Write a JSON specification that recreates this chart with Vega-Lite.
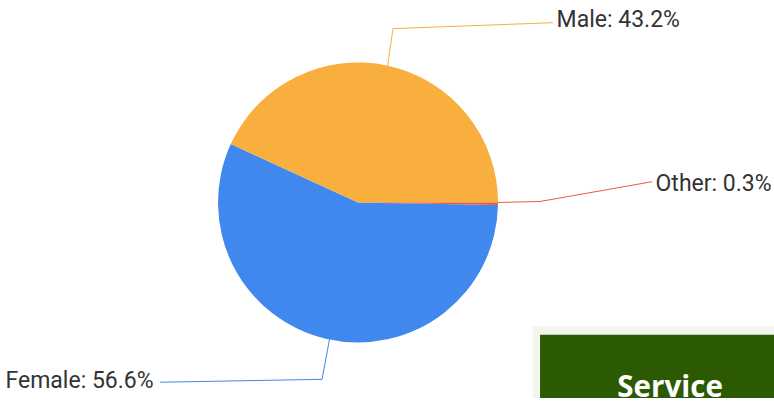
{
  "$schema": "https://vega.github.io/schema/vega-lite/v6.json",
  "width": 774,
  "height": 403,
  "autosize": {"type": "fit", "contains": "padding"},
  "padding": 0,
  "background": "white",
  "config": {"view": {"stroke": null}},
  "datasets": {
    "slices": [
      {"category": "Female", "share": 56.6},
      {"category": "Male", "share": 43.2},
      {"category": "Other", "share": 0.3}
    ],
    "leaders": [
      {"category": "Male", "step": 1, "px": 0.21, "py": 0.98},
      {"category": "Male", "step": 2, "px": 0.25, "py": 1.257},
      {"category": "Male", "step": 3, "px": 1.393, "py": 1.3},
      {"category": "Other", "step": 1, "px": 1.0, "py": 0.0},
      {"category": "Other", "step": 2, "px": 1.3, "py": 0.007},
      {"category": "Other", "step": 3, "px": 2.1, "py": 0.15},
      {"category": "Female", "step": 1, "px": -0.2, "py": -0.97},
      {"category": "Female", "step": 2, "px": -0.257, "py": -1.279},
      {"category": "Female", "step": 3, "px": -1.414, "py": -1.3}
    ],
    "labels": [
      {"category": "Male", "label": "Male: 43.2%", "lx": 1.418, "ly": 1.321, "side": "right"},
      {"category": "Other", "label": "Other: 0.3%", "lx": 2.125, "ly": 0.136, "side": "right"},
      {"category": "Female", "label": "Female: 56.6%", "lx": -1.46, "ly": -1.293, "side": "left"}
    ],
    "box": [
      {"part": "outer", "x1": 1.25, "x2": 2.971, "y1": -0.893, "y2": -1.414},
      {"part": "inner", "x1": 1.3, "x2": 2.971, "y1": -0.957, "y2": -1.414}
    ],
    "boxtext": [
      {"text": "Service", "tx": 2.229, "ty": -1.407}
    ]
  },
  "layer": [
    {
      "data": {"name": "slices"},
      "mark": {"type": "arc", "outerRadius": 140},
      "encoding": {
        "x": {"datum": 0, "type": "quantitative", "scale": {"domain": [-2.557, 2.971], "nice": false, "zero": false}, "axis": null},
        "y": {"datum": 0, "type": "quantitative", "scale": {"domain": [-1.414, 1.464], "nice": false, "zero": false}, "axis": null},
        "theta": {"field": "share", "type": "quantitative", "stack": true, "scale": {"range": [1.5896, 7.8728]}},
        "color": {"field": "category", "type": "nominal", "scale": {"domain": ["Female", "Male", "Other"], "range": ["#4088ED", "#F9AF3D", "#E95A40"]}, "legend": null},
        "order": {"field": "category", "sort": "ascending"}
      }
    },
    {
      "data": {"name": "leaders"},
      "mark": {"type": "line", "strokeWidth": 1},
      "encoding": {
        "x": {"field": "px", "type": "quantitative"},
        "y": {"field": "py", "type": "quantitative"},
        "color": {"field": "category", "type": "nominal", "legend": null},
        "order": {"field": "step", "type": "quantitative"}
      }
    },
    {
      "data": {"name": "labels"},
      "transform": [{"filter": "datum.side === 'right'"}],
      "mark": {"type": "text", "align": "left", "baseline": "middle", "font": "Roboto", "fontSize": 23, "color": "#333333"},
      "encoding": {
        "x": {"field": "lx", "type": "quantitative"},
        "y": {"field": "ly", "type": "quantitative"},
        "text": {"field": "label"}
      }
    },
    {
      "data": {"name": "labels"},
      "transform": [{"filter": "datum.side === 'left'"}],
      "mark": {"type": "text", "align": "right", "baseline": "middle", "font": "Roboto", "fontSize": 23, "color": "#333333"},
      "encoding": {
        "x": {"field": "lx", "type": "quantitative"},
        "y": {"field": "ly", "type": "quantitative"},
        "text": {"field": "label"}
      }
    },
    {
      "data": {"name": "box"},
      "mark": {"type": "rect"},
      "encoding": {
        "x": {"field": "x1", "type": "quantitative"},
        "x2": {"field": "x2"},
        "y": {"field": "y1", "type": "quantitative"},
        "y2": {"field": "y2"},
        "fill": {"field": "part", "type": "nominal", "scale": {"domain": ["outer", "inner"], "range": ["#F3F5EE", "#2C5A02"]}, "legend": null}
      }
    },
    {
      "data": {"name": "boxtext"},
      "mark": {"type": "text", "align": "center", "baseline": "alphabetic", "font": "Open Sans", "fontWeight": "bold", "fontSize": 29.5, "color": "white"},
      "encoding": {
        "x": {"field": "tx", "type": "quantitative"},
        "y": {"field": "ty", "type": "quantitative"},
        "text": {"field": "text"}
      }
    }
  ]
}
